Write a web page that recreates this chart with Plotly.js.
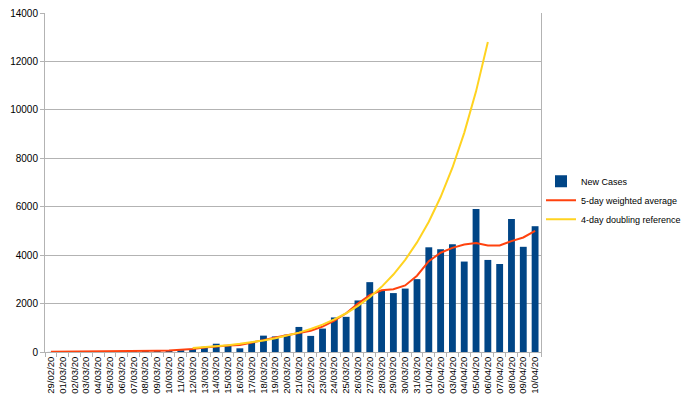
<!DOCTYPE html>
<html>
<head>
<meta charset="utf-8">
<script src="https://cdn.plot.ly/plotly-3.0.1.min.js"></script>
<style>
	body { margin: 0; background: white; }
	#chart { width: 690px; height: 403px; }
</style>
</head>
<body>
<div id="chart"></div>
<script>
// dates 29/02/20 .. 10/04/20
const dates = [
	"29/02/20",
	"01/03/20", "02/03/20", "03/03/20", "04/03/20", "05/03/20", "06/03/20", "07/03/20", "08/03/20",
	"09/03/20", "10/03/20", "11/03/20", "12/03/20", "13/03/20", "14/03/20", "15/03/20", "16/03/20",
	"17/03/20", "18/03/20", "19/03/20", "20/03/20", "21/03/20", "22/03/20", "23/03/20", "24/03/20",
	"25/03/20", "26/03/20", "27/03/20", "28/03/20", "29/03/20", "30/03/20", "31/03/20",
	"01/04/20", "02/04/20", "03/04/20", "04/04/20", "05/04/20", "06/04/20", "07/04/20", "08/04/20",
	"09/04/20", "10/04/20"
]

const newCases = [
	3,
	13, 4, 11, 34, 29, 48, 45, 69,
	43, 62, 77, 130, 208, 342, 251, 152,
	407, 676, 643, 714, 1035, 665, 967, 1427,
	1452, 2129, 2885, 2546, 2433, 2619, 3009,
	4324, 4244, 4450, 3735, 5903, 3802, 3634, 5491,
	4344, 5195
]

const weightedAvg = [
	10,
	12, 10, 14, 22, 30, 38, 46, 52,
	54, 60, 75, 120, 190, 240, 265, 290,
	380, 490, 600, 700, 790, 880, 1050, 1300,
	1600, 2000, 2350, 2550, 2590, 2750, 3150,
	3750, 4100, 4300, 4440, 4500, 4400, 4400, 4580,
	4730, 5000
]

// doubling reference only drawn 12/03 .. 06/04
const doublingDates = dates.slice(12, 38)
const doublingRef = [
	168, 200, 238, 283, 336, 400, 476, 566, 673, 800,
	951, 1131, 1345, 1600, 1903, 2263, 2691, 3200, 3805, 4525,
	5382, 6400, 7611, 9051, 10764, 12800
]

const yTicks = [0, 2000, 4000, 6000, 8000, 10000, 12000, 14000]

var data = [
	{
		type: "bar",
		name: "New Cases",
		x: dates,
		y: newCases,
		marker: { color: "#004586" }
	},
	{
		type: "scatter",
		mode: "lines",
		name: "5-day weighted average",
		x: dates,
		y: weightedAvg,
		line: { color: "#ff420e", width: 2 }
	},
	{
		type: "scatter",
		mode: "lines",
		name: "4-day doubling reference",
		x: doublingDates,
		y: doublingRef,
		line: { color: "#ffd320", width: 2 }
	}
]

var layout = {
	width: 690,
	height: 403,
	margin: { l: 45, r: 149, t: 13, b: 51, pad: 0, autoexpand: false },
	paper_bgcolor: "white",
	plot_bgcolor: "white",
	font: { family: "Liberation Sans, Arial, sans-serif", size: 10, color: "#000" },
	bargap: 0.42,
	showlegend: true,
	legend: {
		x: 1.0,
		xanchor: "left",
		y: 0.448,
		yanchor: "middle",
		font: { size: 9 },
		tracegroupgap: 0,
		itemwidth: 30,
		bgcolor: "rgba(0,0,0,0)"
	},
	xaxis: {
		type: "category",
		categoryorder: "array",
		categoryarray: dates,
		tickangle: -90,
		tickfont: { size: 9.5 },
		ticks: "outside",
		tickson: "boundaries",
		ticklen: 4,
		tickcolor: "#b3b3b3",
		showline: true,
		linecolor: "#b3b3b3",
		linewidth: 1,
		mirror: false,
		showgrid: false,
		range: [-0.5, dates.length - 0.5],
		fixedrange: true
	},
	yaxis: {
		range: [0, 14000],
		tickvals: yTicks,
		ticktext: yTicks.map(String),
		ticks: "outside",
		ticklen: 4,
		tickcolor: "#b3b3b3",
		tickfont: { size: 10 },
		showgrid: true,
		gridcolor: "#b3b3b3",
		gridwidth: 1,
		showline: true,
		linecolor: "#b3b3b3",
		mirror: true,
		zeroline: false,
		fixedrange: true
	}
}

var config = {
	displayModeBar: false,
	staticPlot: true
}

Plotly.newPlot("chart", data, layout, config)
</script>
</body>
</html>
